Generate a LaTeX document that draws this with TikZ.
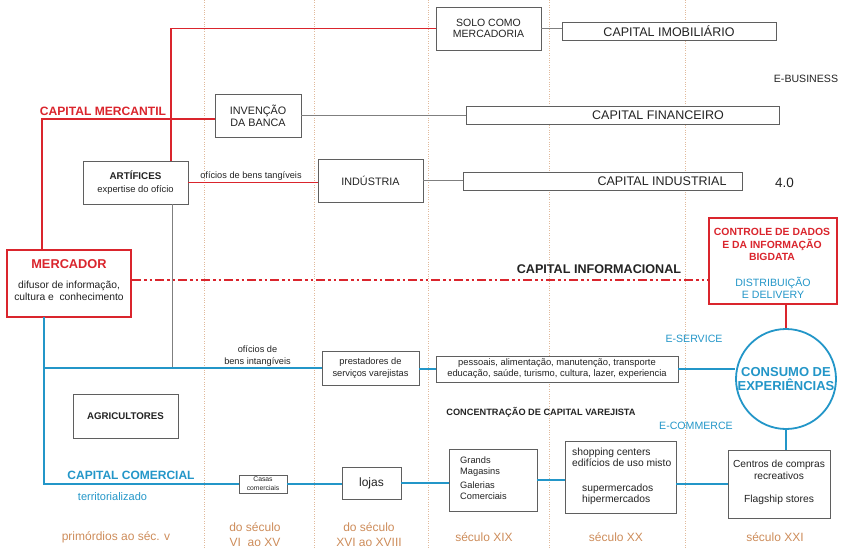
\documentclass[tikz,border=0pt]{standalone}
\usepackage{fontspec}
\setmainfont{Liberation Sans}
\usetikzlibrary{calc}
\definecolor{cred}{RGB}{218,37,45}
\definecolor{cblue}{RGB}{35,150,200}
\definecolor{ctan}{RGB}{205,140,90}
\definecolor{cgray}{RGB}{95,95,95}
\definecolor{ctxt}{RGB}{35,35,35}
\newcommand\fsz[2]{\fontsize{#1}{#2}\selectfont}
\begin{document}
\begin{tikzpicture}[x=1pt,y=-1pt,
 box/.style={draw=cgray, line width=0.8pt, fill=white, inner sep=0pt, text=ctxt, align=center},
 gline/.style={draw=cgray!80, line width=0.8pt},
 rline/.style={draw=cred, line width=1.6pt},
 bline/.style={draw=cblue, line width=1.8pt},
 rdash/.style={draw=cred, line width=2.4pt, dash pattern=on 9pt off 3pt on 2.5pt off 3pt on 2.5pt off 3pt},
 era/.style={draw=ctan!60, line width=0.6pt, dash pattern=on 0.8pt off 1.6pt},
 lbl/.style={inner sep=0pt, text=ctxt, align=center},
 erat/.style={inner sep=0pt, text=ctan, align=center, font=\fsz{12}{15}},
]
\useasboundingbox (0,0) rectangle (841,549);
% era separators
\foreach \xx in {204,314,428,549,685} \draw[era] (\xx,0) -- (\xx,549);

% boxes
\node[box, minimum width=105, minimum height=43, font=\fsz{10.5}{11.5}] (solo) at (488.5,28.5) {SOLO COMO\\MERCADORIA};
\node[box, minimum width=214, minimum height=18, font=\fsz{12.5}{14}] (imob) at (669,31) {CAPITAL IMOBILIÁRIO};
\node[box, minimum width=86, minimum height=43, font=\fsz{10.8}{11.8}] (inv) at (258,115.5) {INVENÇÃO\\DA BANCA};
\node[box, minimum width=313, minimum height=18] (fin) at (622.5,115) {};
\node[lbl, font=\fsz{12.5}{14}] at (658,115) {CAPITAL FINANCEIRO};
\node[box, minimum width=105, minimum height=43] (art) at (135.5,182.5) {};
\node[lbl] at (135.5,182.5) {{\fsz{9.8}{11}\bfseries ARTÍFICES}\\[0.5pt]{\fsz{9.4}{11}expertise do ofício}};
\node[box, minimum width=105, minimum height=43, font=\fsz{10.8}{12}] (indus) at (370.5,180.5) {INDÚSTRIA};
\node[box, minimum width=279, minimum height=18] (capind) at (602.5,181) {};
\node[lbl, font=\fsz{12.5}{14}] at (662,181) {CAPITAL INDUSTRIAL};

\node[box, draw=cred, line width=2.4pt, minimum width=124, minimum height=67] (merc) at (69,283.5) {};
\node[lbl, text=cred, font=\fsz{12.8}{14}\bfseries] at (69,264) {MERCADOR};
\node[lbl, font=\fsz{10.3}{12}] at (69,291) {difusor de informação,\\cultura e\ \ conhecimento};

\node[box, draw=cred, line width=2.2pt, minimum width=128, minimum height=86] (ctrl) at (773,261) {};
\node[lbl, text=cred, font=\fsz{10.4}{12.5}\bfseries] at (772,244.5) {CONTROLE DE DADOS\\E DA INFORMAÇÃO\\BIGDATA};
\node[lbl, text=cblue, font=\fsz{10.6}{12}] at (773,288) {DISTRIBUIÇÃO\\E DELIVERY};

\node[circle, draw=cblue, line width=1.8pt, fill=white, minimum size=100, inner sep=0pt, text=cblue, align=center, font=\fsz{13}{14}\bfseries] (circ) at (786,379) {CONSUMO DE\\EXPERIÊNCIAS};

\node[box, minimum width=97, minimum height=34, font=\fsz{9.3}{11.5}] (pres) at (370.5,368) {prestadores de\\serviços varejistas};
\node[box, minimum width=242, minimum height=26, font=\fsz{9.4}{11}] (pes) at (557,369) {pessoais, alimentação, manutenção, transporte\\educação, saúde, turismo, cultura, lazer, experiencia};

\node[box, minimum width=105, minimum height=44, font=\fsz{9.7}{11}\bfseries] (agri) at (125.5,416) {AGRICULTORES};
\node[box, minimum width=48, minimum height=18, font=\fsz{6.8}{9}] (casas) at (263,484) {Casas\\comerciais};
\node[box, minimum width=59, minimum height=32, font=\fsz{12}{13}] (lojas) at (371.5,483) {lojas};
\node[box, minimum width=88, minimum height=62] (grands) at (493,480) {};
\node[lbl, anchor=west, align=left, font=\fsz{9.3}{10.8}] at (460,478) {Grands\\Magasins\\[3.5pt]Galerias\\Comerciais};
\node[box, minimum width=111, minimum height=72] (shop) at (620.5,477) {};
\node[lbl, anchor=west, align=left, font=\fsz{10.3}{11.5}] at (572,457.5) {shopping centers\\edifícios de uso misto};
\node[lbl, anchor=west, align=left, font=\fsz{10.3}{11.5}] at (582,494.5) {supermercados\\hipermercados};
\node[box, minimum width=102, minimum height=68] (cent) at (779,484) {};
\node[lbl, font=\fsz{10.2}{12}] at (779,470) {Centros de compras\\recreativos};
\node[lbl, font=\fsz{10.3}{12}] at (779,500) {Flagship stores};

% free labels
\node[lbl, text=cred, font=\fsz{12.1}{14}\bfseries] (merclbl) at (103,111) {CAPITAL MERCANTIL};
\node[lbl, font=\fsz{10.6}{12}] (ebus) at (806,79) {E-BUSINESS};
\node[lbl, font=\fsz{13.5}{15}] (four) at (784.5,183) {4.0};
\node[lbl, font=\fsz{9.2}{11}] (tang) at (251,176) {ofícios de bens tangíveis};
\node[lbl, font=\fsz{9.2}{11.5}] (intang) at (257.5,356) {ofícios de\\bens intangíveis};
\node[lbl, font=\fsz{12.6}{14}\bfseries] (capinf) at (599,269) {CAPITAL INFORMACIONAL};
\node[lbl, text=cblue, font=\fsz{10.6}{12}] (eserv) at (694,339) {E-SERVICE};
\node[lbl, text=cblue, font=\fsz{10.6}{12}] (ecom) at (696,426) {E-COMMERCE};
\node[lbl, font=\fsz{9.2}{11}\bfseries] (conc) at (541,412) {CONCENTRAÇÃO DE CAPITAL VAREJISTA};
\node[lbl, text=cblue, font=\fsz{12}{14}\bfseries] (capcom) at (131,475) {CAPITAL COMERCIAL};
\node[lbl, text=cblue, font=\fsz{11}{13}] (terr) at (112.5,497) {territorializado};

\node[erat] (e1) at (116,537) {primórdios ao séc. v};
\node[erat] (e2) at (255,534.5) {do século\\VI\ \ ao XV};
\node[erat] (e3) at (369,534.5) {do século\\XVI ao XVIII};
\node[erat] (e4) at (484,537) {século XIX};
\node[erat] (e5) at (616,537) {século XX};
\node[erat] (e6) at (775,537) {século XXI};

% anchor points on box borders
\coordinate (artn) at (171,161);
\coordinate (arts) at (172,204);
\coordinate (mercn) at (42,250);
\coordinate (mercs) at (44,317);

% connectors
\draw[rline] (artn) |- (solo.west);
\draw[rline] (mercn) |- ($(inv.west)+(0,3.5)$);
\draw[rline] (art.east) -- (art.east -| indus.west);
\draw[gline] (solo.east) -- (solo.east -| imob.west);
\draw[gline] (inv.east) -- (inv.east -| fin.west);
\draw[gline] (indus.east) -- (indus.east -| capind.west);
\draw[gline] (arts) -- (arts |- pres.west);
\draw[rdash] ($(merc.east)+(0,-3.5)$) -- ($(merc.east -| ctrl.west)+(0,-3.5)$);
\draw[rline] (circ.north |- ctrl.south) -- (circ.north);
\draw[bline] (mercs) |- (casas.west);
\draw[bline] (mercs |- pres.west) -- (pres.west);
\draw[bline] (pres.east |- pes.west) -- (pes.west);
\draw[bline] (pes.east) -- (pes.east -| circ.west);
\draw[bline] (casas.east) -- (casas.east -| lojas.west);
\draw[bline] (lojas.east) -- (lojas.east -| grands.west);
\draw[bline] (grands.east) -- (grands.east -| shop.west);
\draw[bline] (shop.east |- cent.west) -- (cent.west);
\draw[bline] (circ.south) -- (circ.south |- cent.north);
\end{tikzpicture}
\end{document}
